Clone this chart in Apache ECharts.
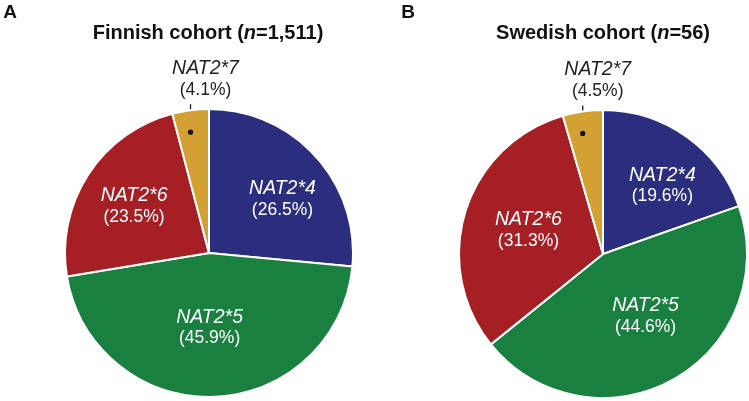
<!DOCTYPE html>
<html>
<head>
<meta charset="utf-8">
<script src="https://cdn.jsdelivr.net/npm/echarts@6/dist/echarts.min.js"></script>
<style>
  html, body { margin: 0; padding: 0; background: #fff; }
  #chart { width: 749px; height: 401px; }
</style>
</head>
<body>
<div id="chart"></div>
<script>
const categories = ['NAT2*4', 'NAT2*5', 'NAT2*6', 'NAT2*7'];
const finnishShares = [26.5, 45.9, 23.5, 4.1];
const swedishShares = [19.6, 44.6, 31.3, 4.5];
const panelLetters = ['A', 'B'];
const cohortNames = ['Finnish cohort', 'Swedish cohort'];
const cohortSizes = ['1,511', '56'];

const sliceColors = ['#2b2e7e', '#198040', '#a51f24', '#d3a033'];
const FONT = '"Liberation Sans", Arial, Helvetica, sans-serif';
const pieCenters = [[209, 253], [603, 254]];
const titleX = [208, 603];

// the original sits the inside labels a little off the r/2 spot
const labelNudge = [
  [[18, -3], [-2, 0], [-12, -6]],
  [[16, -7], [6, -3], [-3, -1]],
];
// where the leader dot ends up, filled in by labelLayout
const dotPos = [];

const chart = echarts.init(document.getElementById('chart'));

function layoutLabels(params) {
  const s = params.seriesIndex;
  if (params.dataIndex < 3) {
    const n = labelNudge[s][params.dataIndex];
    return { dx: n[0], dy: n[1] };
  }
  // NAT2*7: text above the pie, a straight vertical leader into the slice
  const p = params.labelLinePoints[0];
  dotPos[s] = [p[0], p[1] + 22];
  return {
    x: p[0] + 15,
    y: p[1] - 10,
    align: 'center',
    verticalAlign: 'bottom',
    labelLinePoints: [[p[0], p[1] + 22], [p[0], p[1] - 6]],
  };
}

function makePie(shares, center) {
  return {
    type: 'pie',
    center,
    radius: 144,
    startAngle: 90,
    clockwise: true,
    avoidLabelOverlap: false,
    silent: true,
    animation: false,
    itemStyle: { borderColor: '#fff', borderWidth: 2 },
    label: {
      position: 'inside',
      color: '#fff',
      fontFamily: FONT,
      lineHeight: 21,
      formatter: p => `{n|${p.name}}\n{p|(${p.value.toFixed(1)}%)}`,
      rich: {
        n: { fontStyle: 'italic', fontSize: 19.5, fontFamily: FONT, lineHeight: 21 },
        p: { fontSize: 17.5, fontFamily: FONT, lineHeight: 21 },
      },
    },
    labelLine: { show: false },
    labelLayout: layoutLabels,
    data: categories.map((name, i) => {
      const item = { name, value: shares[i], itemStyle: { color: sliceColors[i] } };
      if (i === 3) {
        item.label = { position: 'outside', color: '#222' };
        item.labelLine = { show: true, lineStyle: { color: '#1a1a1a', width: 1.3 } };
      }
      return item;
    }),
  };
}

const texts = [];
panelLetters.forEach((letter, i) => {
  texts.push({
    type: 'text',
    x: i === 0 ? 10 : 408,
    y: 13,
    style: {
      text: letter,
      font: `bold 19px ${FONT}`,
      fill: '#111',
      align: 'center',
      verticalAlign: 'middle',
    },
  });
  texts.push({
    type: 'text',
    x: titleX[i],
    y: 33,
    style: {
      text: `{b|${cohortNames[i]} (}{bi|n}{b|=${cohortSizes[i]})}`,
      align: 'center',
      verticalAlign: 'middle',
      rich: {
        b: { fontWeight: 'bold', fontSize: 20, fontFamily: FONT, fill: '#111' },
        bi: { fontWeight: 'bold', fontStyle: 'italic', fontSize: 20, fontFamily: FONT, fill: '#111' },
      },
    },
  });
});

chart.setOption({
  backgroundColor: '#fff',
  graphic: texts,
  series: [
    makePie(finnishShares, pieCenters[0]),
    makePie(swedishShares, pieCenters[1]),
  ],
});

// leader dots, placed where labelLayout put the line ends
const zr = chart.getZr();
dotPos.forEach(d => {
  if (!d) return;
  zr.add(new echarts.graphic.Circle({
    shape: { cx: d[0], cy: d[1], r: 2.6 },
    style: { fill: '#111' },
    z: 100,
  }));
});
</script>
</body>
</html>
